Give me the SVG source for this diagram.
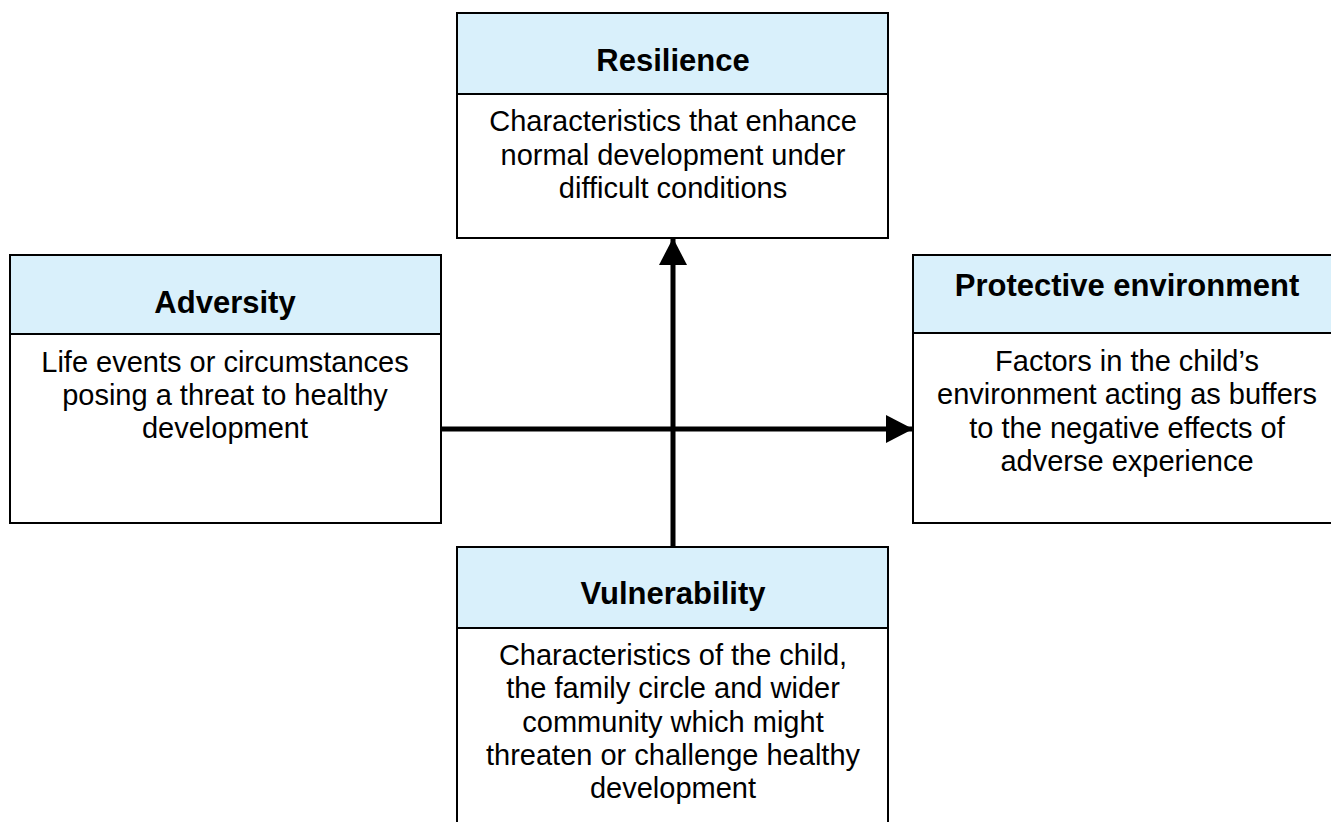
<svg xmlns="http://www.w3.org/2000/svg" width="1331" height="822" viewBox="0 0 1331 822">
<defs>
<style>
.hd{fill:#d9f0fb;stroke:#000;stroke-width:2}
.bd{fill:#fff;stroke:#000;stroke-width:2}
.t{font-family:"Liberation Sans",Arial,sans-serif;font-weight:bold;font-size:31px;text-anchor:middle;fill:#000}
.b{font-family:"Liberation Sans",Arial,sans-serif;font-size:29px;text-anchor:middle;fill:#000}
.c{stroke:#000;stroke-width:5;fill:none}
</style>
<marker id="ah" markerUnits="userSpaceOnUse" markerWidth="27" markerHeight="28" refX="26" refY="14" orient="auto">
<path d="M0,0 L27,14 L0,28 Z" fill="#000"/>
</marker>
</defs>
<rect width="1331" height="822" fill="#fff"/>
<g id="connectors">
<line class="c" x1="441" y1="429" x2="912" y2="429" marker-end="url(#ah)"/>
<line class="c" x1="673" y1="547" x2="673" y2="239" marker-end="url(#ah)"/>
</g>
<g id="resilience">
<rect class="bd" x="457" y="13" width="431" height="225"/>
<rect class="hd" x="457" y="13" width="431" height="81"/>
<text class="t" x="673" y="71">Resilience</text>
<text class="b" x="673" y="131">Characteristics that enhance</text>
<text class="b" x="673" y="165">normal development under</text>
<text class="b" x="673" y="198">difficult conditions</text>
</g>
<g id="adversity">
<rect class="bd" x="10" y="255" width="431" height="268"/>
<rect class="hd" x="10" y="255" width="431" height="79"/>
<text class="t" x="225" y="313">Adversity</text>
<text class="b" x="225" y="372">Life events or circumstances</text>
<text class="b" x="225" y="405">posing a threat to healthy</text>
<text class="b" x="225" y="438">development</text>
</g>
<g id="protective">
<rect class="bd" x="913" y="255" width="430" height="268"/>
<rect class="hd" x="913" y="255" width="430" height="78"/>
<text class="t" x="1127" y="296">Protective environment</text>
<text class="b" x="1127" y="371">Factors in the child’s</text>
<text class="b" x="1127" y="404">environment acting as buffers</text>
<text class="b" x="1127" y="438">to the negative effects of</text>
<text class="b" x="1127" y="471">adverse experience</text>
</g>
<g id="vulnerability">
<rect class="bd" x="457" y="547" width="431" height="290"/>
<rect class="hd" x="457" y="547" width="431" height="81"/>
<text class="t" x="673" y="604">Vulnerability</text>
<text class="b" x="673" y="665">Characteristics of the child,</text>
<text class="b" x="673" y="698">the family circle and wider</text>
<text class="b" x="673" y="732">community which might</text>
<text class="b" x="673" y="765">threaten or challenge healthy</text>
<text class="b" x="673" y="798">development</text>
</g>
</svg>
